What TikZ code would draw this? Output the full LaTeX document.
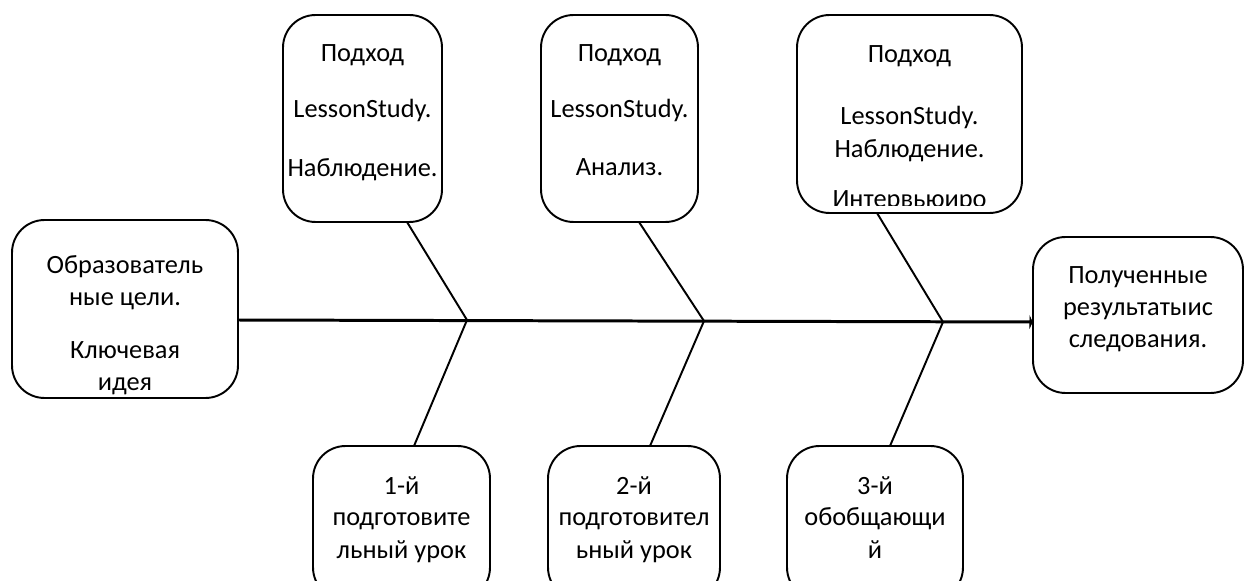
\documentclass[tikz,border=0pt]{standalone}
\usepackage{fontspec}
\setmainfont{Carlito}
\usetikzlibrary{arrows.meta}

\tikzset{every picture/.style={line width=1.1pt}}
\tikzset{
  box/.style={draw, rounded corners=0.65cm, inner sep=0pt},
  txt/.style={inner sep=0pt, anchor=base, font=\fontsize{15}{18.7}\selectfont},
  bone/.style={line width=1.1pt},
  spine/.style={line width=1.7pt, -{Latex[length=2pt,width=9pt]}}
}

\begin{document}
\begin{tikzpicture}[x=0.02cm,y=-0.02cm]
\useasboundingbox (0,0) rectangle (1248,581);
\clip (0,0) rectangle (1248,581);
% boxes
\node[box, minimum width=4.52cm, minimum height=3.56cm] (goal) at (125,309) {};
\node[box, minimum width=4.2cm, minimum height=3.12cm] (result) at (1138,315) {};
\node[box, minimum width=3.18cm, minimum height=4.14cm] (top1) at (362.5,118.5) {};
\node[box, minimum width=3.14cm, minimum height=4.14cm] (top2) at (619.5,118.5) {};
\node[box, minimum width=4.5cm, minimum height=3.96cm] (top3) at (909.5,114) {};
\node[box, minimum width=3.54cm, minimum height=3.08cm] (bot1) at (401.5,523) {};
\node[box, minimum width=3.44cm, minimum height=3.08cm] (bot2) at (634,523) {};
\node[box, minimum width=3.52cm, minimum height=3.08cm] (bot3) at (875,523) {};
% texts
\foreach \t/\y [count=\i] in {Образователь/273, ные цели./305, Ключевая/358, идея/390}
  \node[txt] (goal-\i) at (125,\y) {\t};
\foreach \t/\y [count=\i] in {Полученные/283, результатыис/315, следования./347}
  \node[txt] (result-\i) at (1138,\y) {\t};
\foreach \t/\y [count=\i] in {Подход/62, LessonStudy./118, Наблюдение./176}
  \node[txt] (top1-\i) at (362.5,\y) {\t};
\foreach \t/\y [count=\i] in {Подход/62, LessonStudy./118, Анализ./175}
  \node[txt] (top2-\i) at (619.5,\y) {\t};
\begin{scope}
\clip (797,15) rectangle (1022,205);
\foreach \t/\y [count=\i] in {Подход/63, LessonStudy./125, Наблюдение./157, Интервьюиро/208}
  \node[txt] (top3-\i) at (909.5,\y) {\t};
\end{scope}
\foreach \t/\y [count=\i] in {1-й/494, подготовите/525, льный урок/558}
  \node[txt] (bot1-\i) at (401.5,\y) {\t};
\foreach \t/\y [count=\i] in {2-й/494, подготовител/525, ьный урок/558}
  \node[txt] (bot2-\i) at (634,\y) {\t};
\foreach \t/\y [count=\i] in {3-й/494, обобщающи/525, й/558}
  \node[txt] (bot3-\i) at (875,\y) {\t};
% spine and bones
\coordinate (s0) at (238,320);
\coordinate (s1) at (1033,322);
\coordinate (j1) at (467,320);
\coordinate (j2) at (704,321);
\coordinate (j3) at (943,322);
\coordinate (t1) at (407,222);
\coordinate (t2) at (639,222);
\coordinate (t3) at (877,213);
\coordinate (b1) at (414,446);
\coordinate (b2) at (650,446);
\coordinate (b3) at (890,446);
\draw[spine] (s0) -- (s1);
\draw[bone] (t1) -- (j1) -- (b1);
\draw[bone] (t2) -- (j2) -- (b2);
\draw[bone] (t3) -- (j3) -- (b3);
\end{tikzpicture}
\end{document}
